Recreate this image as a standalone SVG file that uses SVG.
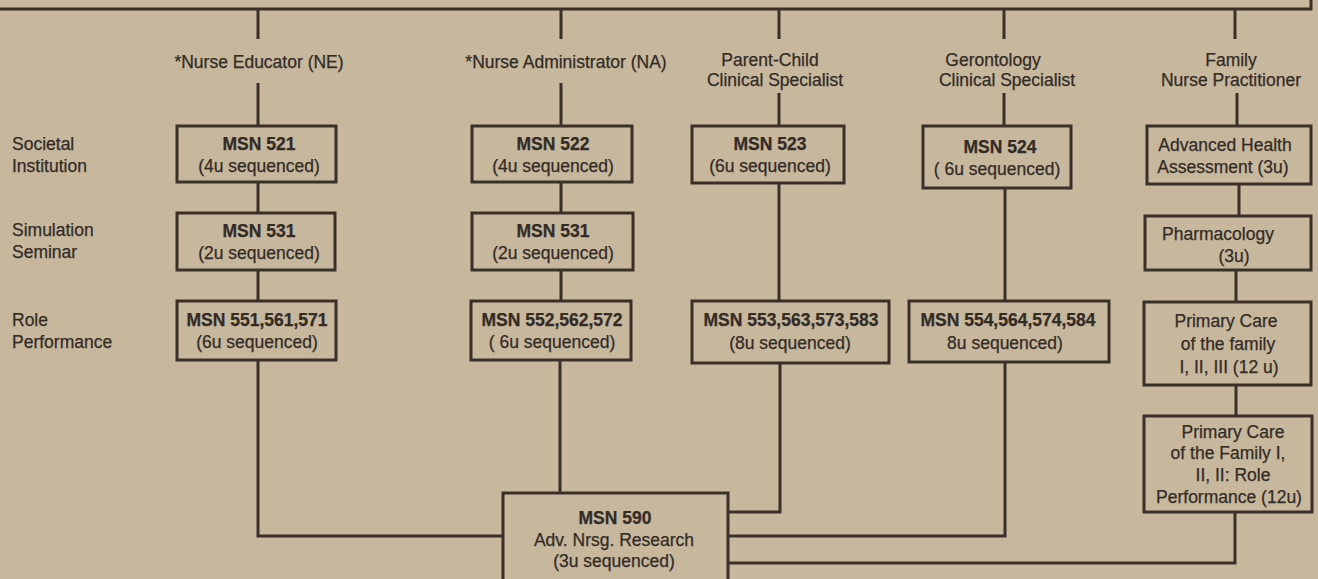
<svg xmlns="http://www.w3.org/2000/svg" width="1318" height="579" viewBox="0 0 1318 579">
<style>
.bg{fill:#c6b79d}
.box{fill:none;stroke:#3a3029;stroke-width:3}
.ln{fill:none;stroke:#3a3029;stroke-width:3}
text{font-family:"Liberation Sans",Arial,sans-serif;font-size:17.5px;fill:#332b25;stroke:#332b25;stroke-width:0.25}
.c{text-anchor:middle}
.b{font-weight:bold}
</style>
<rect class="bg" x="0" y="0" width="1318" height="579"/>
<g id="connectors">
<path class="ln" d="M0,9 H1311 V0"/>
<path class="ln" d="M258,9 V39 M561,9 V39 M779,9 V39 M1004,9 V39 M1235,9 V39"/>
<path class="ln" d="M258,83 V126 M561,83 V126 M779,93 V126 M1004,93 V126 M1237,93 V126"/>
<path class="ln" d="M258,182 V213 M258,270 V301 M561,182 V213 M561,270 V301"/>
<path class="ln" d="M779,183 V301 M1005,188 V301"/>
<path class="ln" d="M1239,184 V216 M1236,270 V302 M1236,385 V416"/>
<path class="ln" d="M258,360 V536 H503 M560,360 V493 M780,363 V512 H728 M1005,362 V536 H728 M1235,512 V563 H728"/>
</g>
<g id="headers">
<text class="c" x="259" y="68">*Nurse Educator (NE)</text>
<text class="c" x="566" y="68">*Nurse Administrator (NA)</text>
<text class="c" x="770" y="66">Parent-Child</text>
<text class="c" x="775" y="86">Clinical Specialist</text>
<text class="c" x="993" y="66">Gerontology</text>
<text class="c" x="1007" y="86">Clinical Specialist</text>
<text class="c" x="1231" y="66">Family</text>
<text class="c" x="1231" y="86">Nurse Practitioner</text>
</g>
<g id="rowlabels">
<text x="12" y="150">Societal</text>
<text x="12" y="172">Institution</text>
<text x="12" y="236">Simulation</text>
<text x="12" y="258">Seminar</text>
<text x="12" y="326">Role</text>
<text x="12" y="348">Performance</text>
</g>
<g id="n521"><rect class="box" x="177" y="126" width="159" height="56"/><text class="c b" x="259" y="150">MSN 521</text><text class="c" x="259" y="172">(4u sequenced)</text></g>
<g id="n522"><rect class="box" x="472" y="126" width="160" height="56"/><text class="c b" x="553" y="150">MSN 522</text><text class="c" x="553" y="172">(4u sequenced)</text></g>
<g id="n523"><rect class="box" x="692" y="126" width="152" height="57"/><text class="c b" x="770" y="150">MSN 523</text><text class="c" x="770" y="172">(6u sequenced)</text></g>
<g id="n524"><rect class="box" x="923" y="126" width="148" height="62"/><text class="c b" x="1000" y="153">MSN 524</text><text class="c" x="997" y="175">( 6u sequenced)</text></g>
<g id="nAHA"><rect class="box" x="1147" y="126" width="164" height="58"/><text class="c" x="1225" y="151">Advanced Health</text><text class="c" x="1223" y="173">Assessment (3u)</text></g>
<g id="n531a"><rect class="box" x="177" y="213" width="158" height="57"/><text class="c b" x="259" y="237">MSN 531</text><text class="c" x="259" y="259">(2u sequenced)</text></g>
<g id="n531b"><rect class="box" x="472" y="213" width="161" height="57"/><text class="c b" x="553" y="237">MSN 531</text><text class="c" x="553" y="259">(2u sequenced)</text></g>
<g id="nPharm"><rect class="box" x="1145" y="216" width="166" height="54"/><text class="c" x="1218" y="240">Pharmacology</text><text class="c" x="1234" y="262">(3u)</text></g>
<g id="n551"><rect class="box" x="177" y="301" width="159" height="59"/><text class="c b" x="257" y="326">MSN 551,561,571</text><text class="c" x="257" y="348">(6u sequenced)</text></g>
<g id="n552"><rect class="box" x="471" y="301" width="160" height="59"/><text class="c b" x="552" y="326">MSN 552,562,572</text><text class="c" x="552" y="348">( 6u sequenced)</text></g>
<g id="n553"><rect class="box" x="692" y="301" width="197" height="62"/><text class="c b" x="791" y="326">MSN 553,563,573,583</text><text class="c" x="790" y="349">(8u sequenced)</text></g>
<g id="n554"><rect class="box" x="909" y="301" width="200" height="61"/><text class="c b" x="1008" y="326">MSN 554,564,574,584</text><text class="c" x="1005" y="349">8u sequenced)</text></g>
<g id="nPC1"><rect class="box" x="1144" y="302" width="167" height="83"/><text class="c" x="1226" y="327">Primary Care</text><text class="c" x="1228" y="350">of the family</text><text class="c" x="1229" y="373">I, II, III (12 u)</text></g>
<g id="nPC2"><rect class="box" x="1144" y="416" width="168" height="96"/><text class="c" x="1233" y="438">Primary Care</text><text class="c" x="1228" y="459">of the Family I,</text><text class="c" x="1233" y="481">II, II: Role</text><text class="c" x="1229" y="503">Performance (12u)</text></g>
<g id="n590"><rect class="box" x="503" y="493" width="225" height="100"/><text class="c b" x="615" y="524">MSN 590</text><text class="c" x="614" y="546">Adv. Nrsg. Research</text><text class="c" x="614" y="567">(3u sequenced)</text></g>
</svg>
